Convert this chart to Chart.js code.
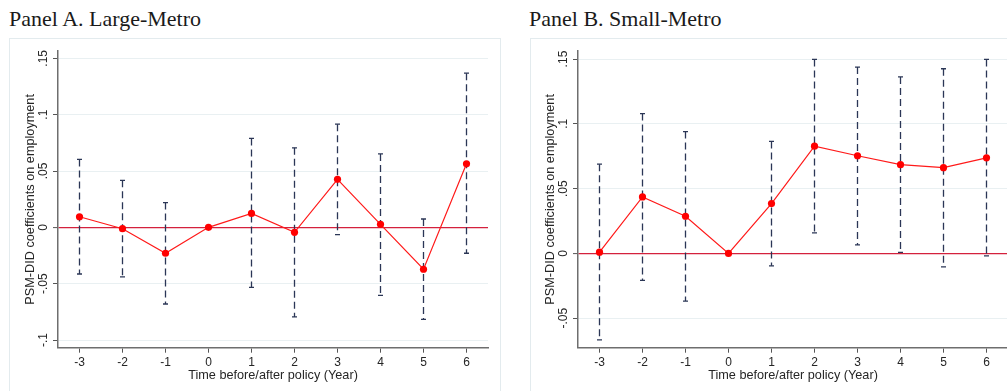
<!DOCTYPE html>
<html>
<head>
<meta charset="utf-8">
<script src="https://cdn.jsdelivr.net/npm/chart.js@4.4.1/dist/chart.umd.min.js"></script>
<style>
  html, body { margin: 0; padding: 0; background: #fff; }
  body { width: 1007px; height: 391px; overflow: hidden; position: relative; }
  .title { position: absolute; top: 8px; font-family: "Liberation Serif", "Times New Roman", serif;
           font-size: 22px; line-height: 22px; color: #1a1a1a; white-space: nowrap; }
  .frame { position: absolute; top: 38px; height: 400px; border: 1px solid #e3ebee; box-sizing: border-box; }
  canvas { position: absolute; top: 38px; }
</style>
</head>
<body>
<div class="title" style="left:9px">Panel A. Large-Metro</div>
<div class="title" style="left:529px">Panel B. Small-Metro</div>
<div class="frame" style="left:9px; width:492px"></div>
<div class="frame" style="left:530px; width:520px"></div>
<canvas id="chartA" width="491" height="350" style="left:9px"></canvas>
<canvas id="chartB" width="491" height="350" style="left:529px"></canvas>
<script>
// years relative to the policy
const years = [-3, -2, -1, 0, 1, 2, 3, 4, 5, 6];

// Panel A. Large-Metro
const largeCoef = [0.0094, -0.0012, -0.023, 0, 0.0124, -0.0044, 0.0426, 0.0027, -0.0372, 0.0564];
const largeLo   = [-0.0414, -0.044, -0.068, null, -0.0532, -0.0795, -0.0065, -0.0603, -0.0816, -0.023];
const largeHi   = [0.0603, 0.0417, 0.022, null, 0.0789, 0.0706, 0.0916, 0.0652, 0.0074, 0.1368];
const largeTicks  = [-0.1, -0.05, 0, 0.05, 0.1, 0.15];
const largeLabels = ["-.1", "-.05", "0", ".05", ".1", ".15"];

// Panel B. Small-Metro
const smallCoef = [0.001, 0.0436, 0.0287, 0, 0.0385, 0.0828, 0.0754, 0.0685, 0.0662, 0.0738];
const smallLo   = [-0.0667, -0.0208, -0.0367, null, -0.0095, 0.0159, 0.0066, 0.0008, -0.0103, -0.0018];
const smallHi   = [0.0689, 0.1079, 0.094, null, 0.0864, 0.1497, 0.1438, 0.1362, 0.1425, 0.1497];
const smallTicks  = [-0.05, 0, 0.05, 0.1, 0.15];
const smallLabels = ["-.05", "0", ".05", ".1", ".15"];

const yTitle = "PSM-DID coefficients on employment";
const xTitle = "Time before/after policy (Year)";

const tickFont = { family: "'Liberation Sans', Arial, sans-serif", size: 12 };
const titleFont = { family: "'Liberation Sans', Arial, sans-serif", size: 12.7 };

// dashed confidence intervals, drawn under the line
const ciPlugin = {
  id: "ci",
  beforeDatasetsDraw(chart, args, opts) {
    const { ctx, scales: { x, y } } = chart;
    ctx.save();
    ctx.strokeStyle = "#2b3656";
    ctx.lineWidth = 1.3;
    years.forEach((yr, i) => {
      if (opts.lo[i] == null) return;
      const px = x.getPixelForValue(yr);
      const top = y.getPixelForValue(opts.hi[i]);
      const bot = y.getPixelForValue(opts.lo[i]);
      ctx.setLineDash([7, 4]);
      ctx.beginPath();
      ctx.moveTo(px, top);
      ctx.lineTo(px, bot);
      ctx.stroke();
      ctx.setLineDash([]);
      ctx.beginPath();
      ctx.moveTo(px - 2.5, top); ctx.lineTo(px + 2.5, top);
      ctx.moveTo(px - 2.5, bot); ctx.lineTo(px + 2.5, bot);
      ctx.stroke();
    });
    ctx.restore();
  }
};

// vertical y tick labels (Stata style)
const yLabelPlugin = {
  id: "yLabels",
  afterDraw(chart, args, opts) {
    const { ctx, chartArea, scales: { y } } = chart;
    ctx.save();
    ctx.fillStyle = "#262626";
    ctx.font = "12px 'Liberation Sans', Arial, sans-serif";
    ctx.textAlign = "center";
    ctx.textBaseline = "middle";
    opts.ticks.forEach((v, i) => {
      ctx.save();
      ctx.translate(chartArea.left - 14, y.getPixelForValue(v));
      ctx.rotate(-Math.PI / 2);
      ctx.fillText(opts.labels[i], 0, 0);
      ctx.restore();
    });
    ctx.restore();
  }
};

function makeChart(id, coef, lo, hi, ticks, labels, yMin, yMax) {
  return new Chart(document.getElementById(id), {
    type: "line",
    data: {
      datasets: [{
        data: years.map((yr, i) => ({ x: yr, y: coef[i] })),
        borderColor: "#ff1a1a",
        borderWidth: 1.2,
        pointRadius: 3.6,
        pointBackgroundColor: "#ff0000",
        pointBorderWidth: 0,
        tension: 0
      }]
    },
    options: {
      responsive: false,
      animation: false,
      layout: { padding: { top: 13, right: 12, left: 0, bottom: 0 } },
      plugins: {
        legend: { display: false },
        tooltip: { enabled: false },
        ci: { lo, hi },
        yLabels: { ticks, labels }
      },
      scales: {
        x: {
          type: "linear",
          min: -3.5,
          max: 6.5,
          afterBuildTicks: s => { s.ticks = years.map(v => ({ value: v })); },
          afterFit: s => { s.height = 40.3; },
          ticks: { font: tickFont, color: "#262626", padding: 3, maxRotation: 0 },
          grid: { drawOnChartArea: false, drawTicks: true, tickLength: 5, tickColor: "#555", tickWidth: 1 },
          border: { display: true, color: "#6e6e6e", width: 1.5 },
          title: { display: true, text: xTitle, font: titleFont, color: "#262626", padding: { top: 0, bottom: 5 } }
        },
        y: {
          min: yMin,
          max: yMax,
          afterBuildTicks: s => { s.ticks = ticks.map(v => ({ value: v })); },
          afterFit: s => { s.width = 49; },
          ticks: { display: false },
          grid: {
            color: c => (c.tick && c.tick.value === 0 ? "#d4213d" : "#e9f0f2"),
            lineWidth: c => (c.tick && c.tick.value === 0 ? 1.2 : 1),
            drawTicks: true, tickLength: 5, tickColor: "#555", tickWidth: 1
          },
          border: { display: true, color: "#6e6e6e", width: 1.5 },
          title: { display: true, text: yTitle, font: titleFont, color: "#262626", padding: { top: 13.5, bottom: 0 } }
        }
      }
    },
    plugins: [ciPlugin, yLabelPlugin]
  });
}

makeChart("chartA", largeCoef, largeLo, largeHi, largeTicks, largeLabels, -0.1068, 0.1565);
makeChart("chartB", smallCoef, smallLo, smallHi, smallTicks, smallLabels, -0.0727, 0.1562);
</script>
</body>
</html>
